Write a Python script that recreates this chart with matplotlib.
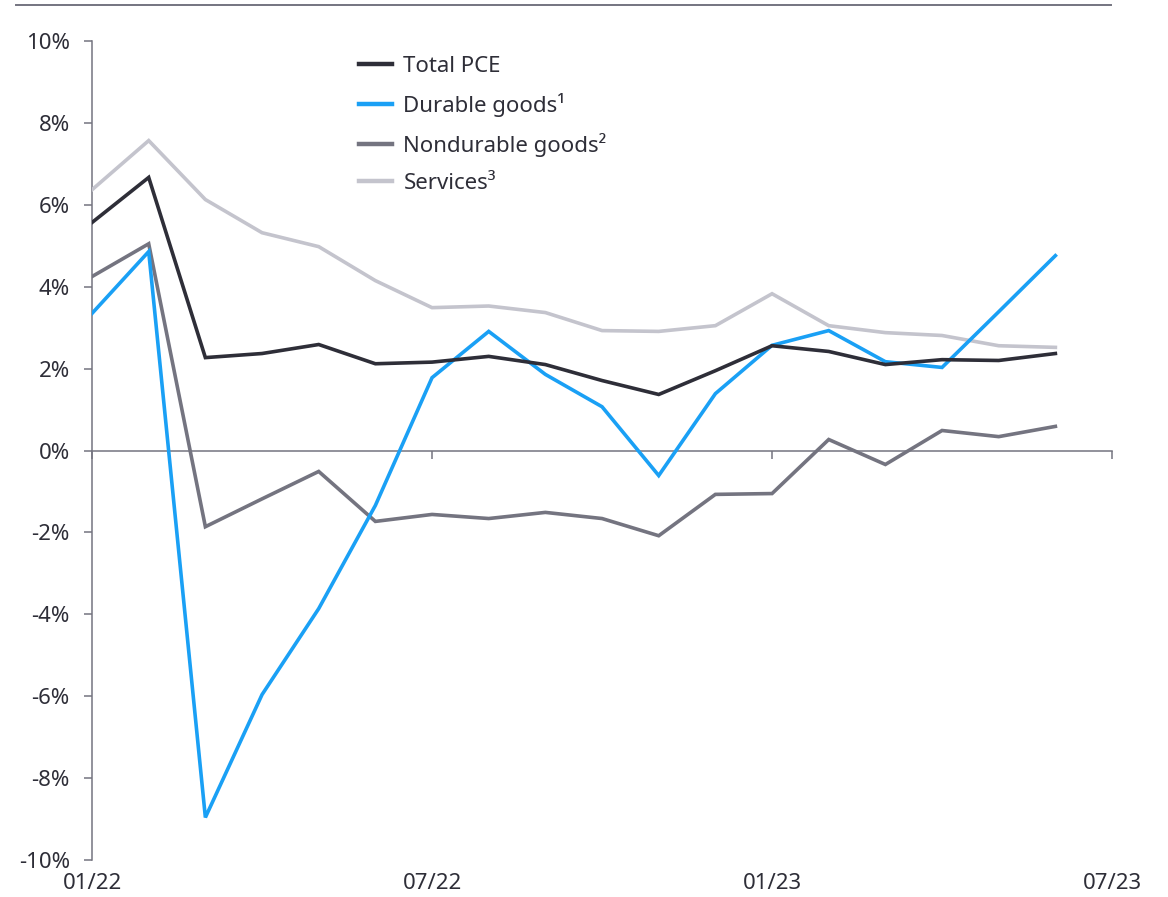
import matplotlib
matplotlib.use("Agg")
import matplotlib.pyplot as plt
from matplotlib.lines import Line2D
import numpy as np

INK = "#2E2E38"
AXIS = "#747480"

plt.rcParams.update({
    "font.family": ["Noto Sans", "DejaVu Sans"],
    "font.size": 16,
    "text.color": INK,
    "xtick.color": AXIS, "ytick.color": AXIS,
    "xtick.labelcolor": INK, "ytick.labelcolor": INK,
})

# monthly, 01/22 .. 06/23, % change
months = np.arange(18)
total_pce = [5.57, 6.67, 2.27, 2.37, 2.59, 2.12, 2.16, 2.30, 2.10, 1.71, 1.37, 1.95,
             2.56, 2.42, 2.10, 2.22, 2.20, 2.37]
durable = [3.35, 4.86, -8.96, -5.96, -3.86, -1.34, 1.78, 2.91, 1.86, 1.07, -0.61, 1.39,
           2.57, 2.93, 2.17, 2.03, 3.39, 4.76]
nondurable = [4.25, 5.05, -1.86, -1.18, -0.51, -1.73, -1.56, -1.66, -1.51, -1.66, -2.08, -1.07,
              -1.05, 0.27, -0.34, 0.49, 0.34, 0.59]
services = [6.37, 7.57, 6.13, 5.32, 4.98, 4.15, 3.49, 3.53, 3.37, 2.93, 2.91, 3.05,
            3.83, 3.05, 2.88, 2.81, 2.56, 2.52]

series = [
    ("Total PCE", total_pce, "#2E2E38"),
    ("Durable goods¹", durable, "#1AA0F5"),
    ("Nondurable goods²", nondurable, "#747480"),
    ("Services³", services, "#C4C4CD"),
]

tick_pos = [0, 6, 12, 18]
tick_lab = ["01/22", "07/22", "01/23", "07/23"]

fig = plt.figure(figsize=(11.68, 8.97), dpi=100)
ax = fig.add_axes([0.0788, 0.0412, 0.8733, 0.913])

# draw services first so the darker lines sit on top
for name, vals, col in reversed(series):
    ax.plot(months, vals, color=col, lw=2.6, solid_joinstyle="miter", zorder=3)

ax.set_xlim(0, 18)
ax.set_ylim(-10, 10)
ax.set_yticks(range(-10, 11, 2))
ax.set_yticklabels([f"{v}%" for v in range(-10, 11, 2)])

ax.spines["top"].set_visible(False)
ax.spines["right"].set_visible(False)
ax.spines["bottom"].set_position(("data", 0))
for s in ("left", "bottom"):
    ax.spines[s].set_color(AXIS)
    ax.spines[s].set_linewidth(1.1)

ax.set_xticks(tick_pos)
ax.set_xticklabels([])
ax.tick_params(axis="x", direction="out", length=6, width=1.1)
ax.tick_params(axis="y", direction="out", length=6, width=1.1, pad=10)

# month labels live under the plot, not on the zero line
for p, lab in zip(tick_pos, tick_lab):
    ax.text(p, -0.016, lab, transform=ax.get_xaxis_transform(),
            ha="center", va="top", fontsize=16, color=INK)

handles = [Line2D([0], [0], color=c, lw=3.2) for _, _, c in series]
ax.legend(handles, [n for n, _, _ in series], loc="upper left",
          bbox_to_anchor=(0.242, 1.006), frameon=False, fontsize=16,
          handlelength=1.5, handletextpad=0.5, labelspacing=0.72,
          labelcolor=INK)

# rule across the top of the figure
fig.add_artist(Line2D([0.014, 0.951], [0.994, 0.994], color=AXIS, lw=1.4,
                      transform=fig.transFigure))

fig.savefig("out.png", dpi=100)
